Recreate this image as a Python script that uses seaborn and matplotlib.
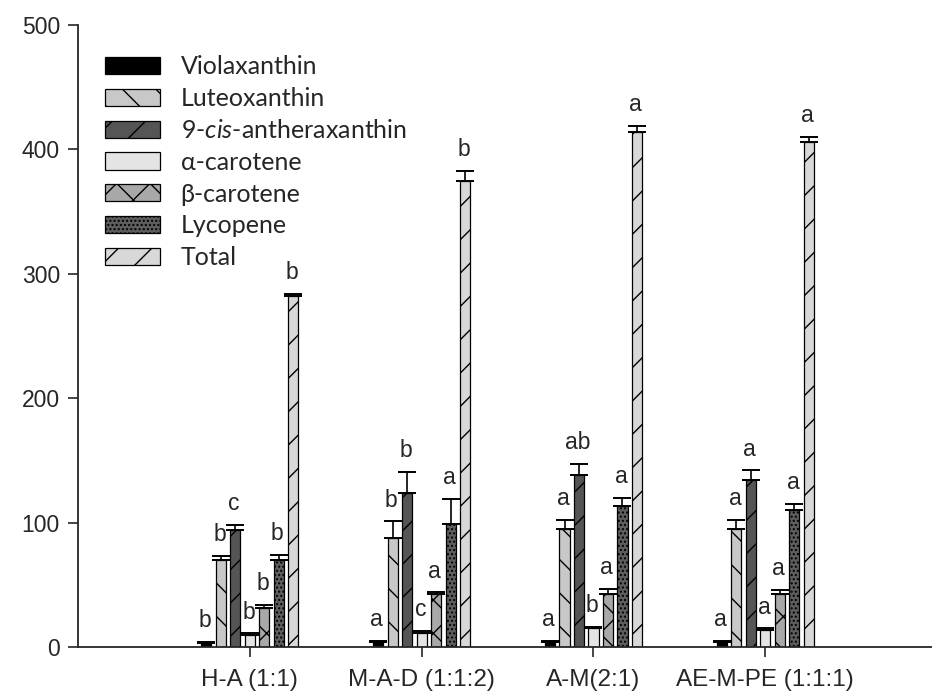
import pandas as pd
import matplotlib
matplotlib.use("Agg")
import matplotlib.pyplot as plt
import seaborn as sns

# === Data ===
groups = ["H-A (1:1)", "M-A-D (1:1:2)", "A-M(2:1)", "AE-M-PE (1:1:1)"]
compounds = ["Violaxanthin", "Luteoxanthin", "9-cis-antheraxanthin",
             "α-carotene", "β-carotene", "Lycopene", "Total"]
legend_labels = ["Violaxanthin", "Luteoxanthin", r"9-$\it{cis}$-antheraxanthin",
                 "α-carotene", "β-carotene", "Lycopene", "Total"]

violaxanthin = [3, 4, 4, 4]
luteoxanthin = [70, 88, 95, 95]
cis_antheraxanthin = [94, 124, 138, 134]
alpha_carotene = [10, 11, 15, 14]
beta_carotene = [31, 43, 43, 43]
lycopene = [70, 99, 113, 110]
total = [282, 375, 414, 406]

violaxanthin_err = [1, 1, 1, 1]
luteoxanthin_err = [3, 13, 7, 7]
cis_antheraxanthin_err = [4, 17, 9, 8]
alpha_carotene_err = [1, 2, 1, 1]
beta_carotene_err = [3, 1, 4, 3]
lycopene_err = [4, 20, 7, 5]
total_err = [2, 8, 5, 4]

violaxanthin_sig = ["b", "a", "a", "a"]
luteoxanthin_sig = ["b", "b", "a", "a"]
cis_antheraxanthin_sig = ["c", "b", "ab", "a"]
alpha_carotene_sig = ["b", "c", "b", "a"]
beta_carotene_sig = ["b", "a", "a", "a"]
lycopene_sig = ["b", "a", "a", "a"]
total_sig = ["b", "b", "a", "a"]

values = [violaxanthin, luteoxanthin, cis_antheraxanthin, alpha_carotene,
          beta_carotene, lycopene, total]
errors = [violaxanthin_err, luteoxanthin_err, cis_antheraxanthin_err, alpha_carotene_err,
          beta_carotene_err, lycopene_err, total_err]
letters = [violaxanthin_sig, luteoxanthin_sig, cis_antheraxanthin_sig, alpha_carotene_sig,
           beta_carotene_sig, lycopene_sig, total_sig]

# === Long-form table ===
rows = []
for comp, vals in zip(compounds, values):
    for g, v in zip(groups, vals):
        rows.append({"group": g, "compound": comp, "value": v})
df = pd.DataFrame(rows)

# === Style ===
sns.set_style("ticks")
plt.rcParams["font.family"] = ["Liberation Sans", "DejaVu Sans"]
plt.rcParams["mathtext.fontset"] = "custom"
plt.rcParams["mathtext.rm"] = "Lato"
plt.rcParams["mathtext.it"] = "Lato:italic"
plt.rcParams["hatch.linewidth"] = 1.0

fills = ["#000000", "#c8c8c8", "#555555", "#e4e4e4", "#a8a8a8", "#5e5e5e", "#d8d8d8"]
hatches = [None, "\\", "/", None, "x", "....", "/"]

fig = plt.figure(figsize=(9.32, 6.93), dpi=100)
ax = fig.add_axes([78 / 932, 46 / 693, 854 / 932, 622 / 693])

sns.barplot(data=df, x="group", y="value", hue="compound", hue_order=compounds,
            order=groups, palette=fills, width=0.59, gap=0.3, errorbar=None,
            edgecolor="black", linewidth=0.9, legend=False, ax=ax)

bar_containers = list(ax.containers)

# === Hatches, error bars and letters ===
for i, cont in enumerate(bar_containers):
    xs, tops = [], []
    for bar in cont.patches:
        bar.set_facecolor(fills[i])
        bar.set_edgecolor("black")
        if hatches[i]:
            bar.set_hatch(hatches[i])
        xs.append(bar.get_x() + bar.get_width() / 2)
        tops.append(bar.get_height())
    errs = errors[i]
    ax.errorbar(xs, tops, yerr=[[0] * len(errs), errs], fmt="none",
                ecolor="black", elinewidth=1.2, capsize=6.5, capthick=1.4, zorder=3)
    for x, t, e, s in zip(xs, tops, errs, letters[i]):
        ax.annotate(s, (x, t + e), xytext=(-1, 7), textcoords="offset points",
                    ha="center", va="bottom", fontsize=16.5)

ax.set_ylim(0, 500)
ax.set_yticks([0, 100, 200, 300, 400, 500])
ax.set_xlim(-1.0, 3.97)
ax.set_xlabel("")
ax.set_ylabel("")
ax.tick_params(axis="y", direction="out", length=7, width=1.2, labelsize=16.5, pad=6)
ax.tick_params(axis="x", direction="out", length=7, width=1.2, labelsize=17.5, pad=9)
sns.despine(ax=ax)
for sp in ["left", "bottom"]:
    ax.spines[sp].set_linewidth(1.3)

leg = ax.legend(bar_containers, legend_labels, loc="upper left",
                bbox_to_anchor=(92 / 932, 1 - 43 / 693), bbox_transform=fig.transFigure,
                frameon=False, borderpad=0, handlelength=2.2, handleheight=0.68,
                handletextpad=0.85, labelspacing=0.35, prop={"family": "Lato", "size": 18})

fig.savefig("out.png", dpi=100)
